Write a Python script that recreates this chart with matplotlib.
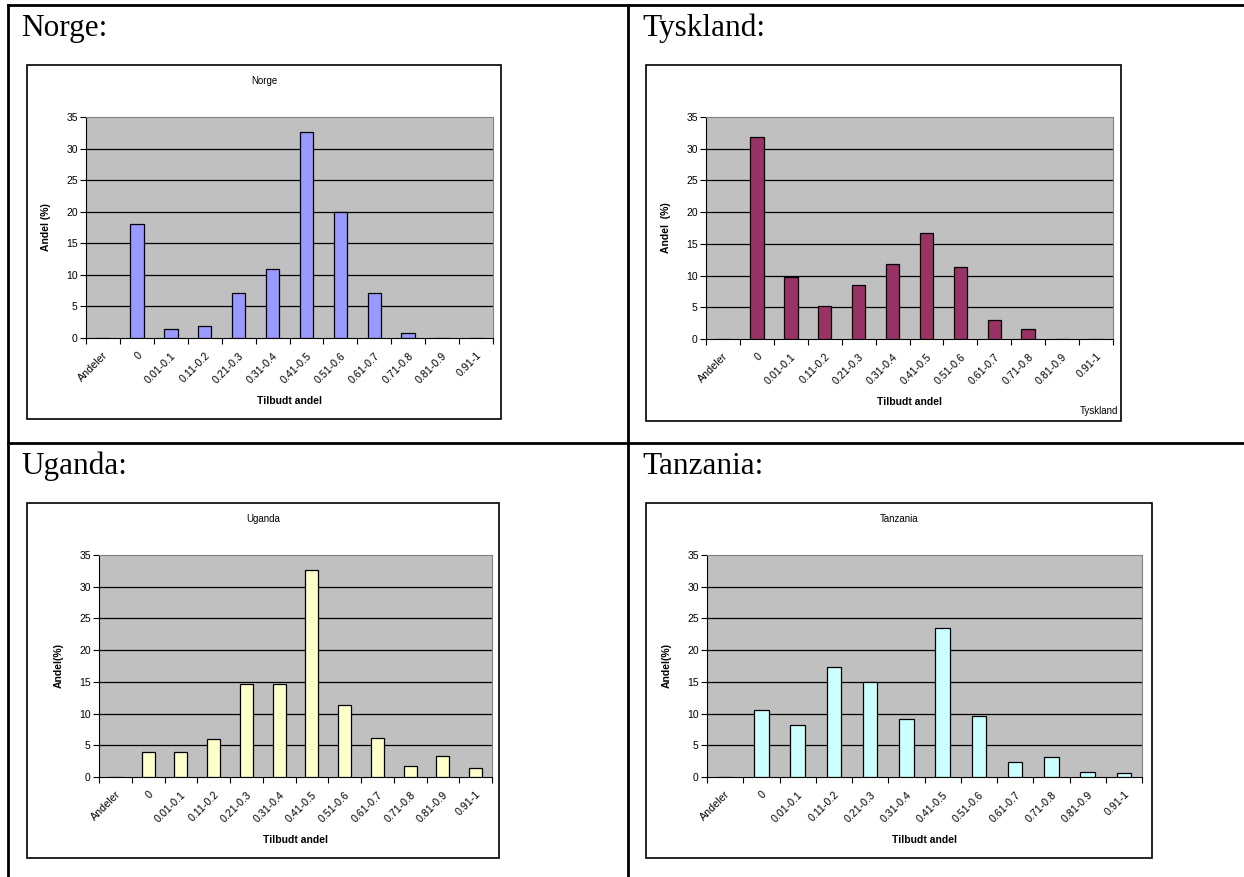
import numpy as np
import matplotlib
matplotlib.use("Agg")
import matplotlib.pyplot as plt
from matplotlib.patches import Rectangle
from matplotlib.lines import Line2D

plt.rcParams['font.family'] = ['Liberation Sans', 'DejaVu Sans']

W, H = 1244, 877

categories = ['Andeler', '0', '0.01-0.1', '0.11-0.2', '0.21-0.3', '0.31-0.4',
              '0.41-0.5', '0.51-0.6', '0.61-0.7', '0.71-0.8', '0.81-0.9', '0.91-1']

norge = [0, 18.1, 1.4, 1.95, 7.2, 10.9, 32.7, 19.9, 7.2, 0.8, 0, 0]
tyskland = [0, 31.8, 9.8, 5.2, 8.5, 11.9, 16.7, 11.3, 3.05, 1.5, 0, 0]
uganda = [0, 4.0, 4.0, 5.95, 14.7, 14.7, 32.6, 11.3, 6.2, 1.8, 3.3, 1.4]
tanzania = [0, 10.5, 8.15, 17.3, 14.9, 9.1, 23.5, 9.65, 2.3, 3.1, 0.85, 0.6]

yticks = [0, 5, 10, 15, 20, 25, 30, 35]


def rect(x, y, w, h):
    # pixel box (top-left origin) -> figure fraction
    return [x / W, 1 - (y + h) / H, w / W, h / H]


fig = plt.figure(figsize=(W / 100, H / 100), dpi=100)


def fline(x0, y0, x1, y1, lw=2):
    fig.add_artist(Line2D([x0 / W, x1 / W], [1 - y0 / H, 1 - y1 / H],
                          color='black', lw=lw, transform=fig.transFigure))


# table grid
fline(8, 5, W, 5)
fline(8, 5, 8, H)
fline(628, 5, 628, H)
fline(8, 443, W, 443)

# cell headings
for txt, x, y in [('Norge:', 21, 36), ('Tyskland:', 642, 36),
                  ('Uganda:', 21, 474), ('Tanzania:', 642, 474)]:
    fig.text(x / W, 1 - y / H, txt, family=['Liberation Serif', 'DejaVu Serif'],
             fontsize=22.5, ha='left', va='baseline')


def chart(box, plot, values, color, title, ylabel, corner=None):
    bx, by, bw, bh = box
    fig.add_artist(Rectangle((bx / W, 1 - (by + bh) / H), bw / W, bh / H,
                             transform=fig.transFigure, fill=False,
                             edgecolor='black', lw=1.2))
    ax = fig.add_axes(rect(*plot))
    ax.set_facecolor('#C0C0C0')
    x = np.arange(len(categories)) + 0.5
    ax.bar(x, values, width=0.4, color=color, edgecolor='black', lw=0.9, zorder=3)
    ax.set_xlim(0, len(categories))
    ax.set_ylim(0, 35)
    ax.set_yticks(yticks)
    ax.tick_params(axis='y', labelsize=7.5, length=4, width=0.8, pad=2)
    for v in yticks[1:-1]:
        ax.axhline(v, color='black', lw=0.9, zorder=1)
    ax.set_xticks(np.arange(len(categories) + 1))
    ax.set_xticklabels([])
    ax.set_xticks(x, minor=True)
    ax.set_xticklabels(categories, minor=True, rotation=45, ha='right',
                       rotation_mode='anchor', fontsize=7.7)
    ax.tick_params(axis='x', which='major', length=4, width=0.8, direction='out')
    ax.tick_params(axis='x', which='minor', length=0, pad=9)
    for s in ('top', 'right'):
        ax.spines[s].set_color('#808080')
    ax.spines['left'].set_color('black')
    ax.spines['bottom'].set_color('black')
    ax.set_xlabel('Tilbudt andel', fontsize=7.5, fontweight='bold', labelpad=8)
    ax.set_ylabel(ylabel, fontsize=7.5, fontweight='bold', labelpad=11)
    if title:
        cx = (bx + bw / 2) / W
        fig.text(cx, 1 - (by + 16) / H, title, fontsize=7, ha='center', va='center')
    if corner:
        fig.text((bx + bw - 3) / W, 1 - (by + bh - 10) / H, corner, fontsize=7,
                 ha='right', va='center')
    return ax


chart((27, 65, 474, 354), (86, 117, 407, 221), norge, '#9999FF', 'Norge', 'Andel (%)')
chart((646, 65, 475, 356), (706, 117, 407, 222), tyskland, '#993366', None,
      'Andel  (%)', corner='Tyskland')
chart((27, 503, 472, 355), (99, 555, 393, 222), uganda, '#FFFFCC', 'Uganda', 'Andel(%)')
chart((646, 503, 506, 355), (707, 555, 435, 222), tanzania, '#CCFFFF', 'Tanzania',
      'Andel(%)')

fig.savefig('out.png', dpi=100)
